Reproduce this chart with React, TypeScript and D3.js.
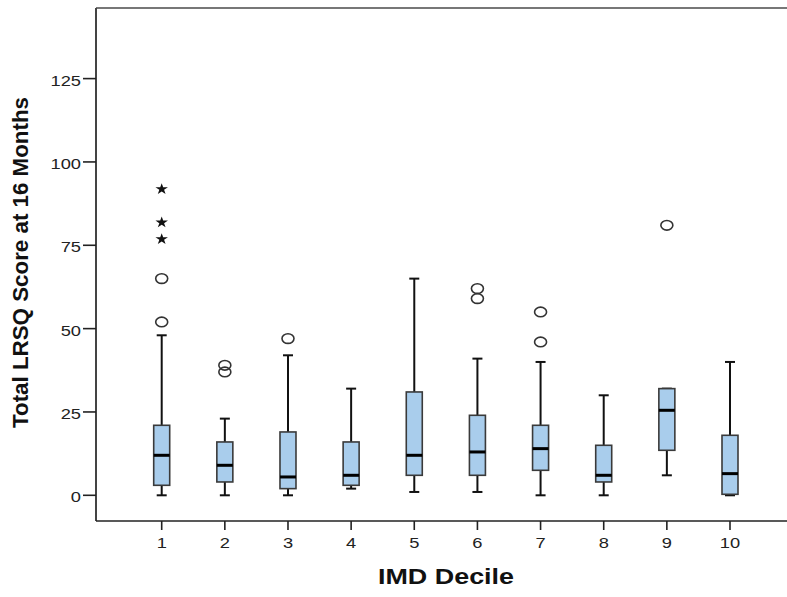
import React from "react";
import * as d3 from "d3";

const categories = ["1", "2", "3", "4", "5", "6", "7", "8", "9", "10"];
const lowerWhisker = [0, 0, 0, 2, 1, 1, 0, 0, 6, 0];
const q1 = [3, 4, 2, 3, 6, 6, 7.5, 4, 13.5, 0.3];
const median = [12, 9, 5.5, 6, 12, 13, 14, 6, 25.5, 6.5];
const q3 = [21, 16, 19, 16, 31, 24, 21, 15, 32, 18];
const upperWhisker = [48, 23, 42, 32, 65, 41, 40, 30, 32, 40];
const outliers = [[52, 65], [37, 39], [47], [], [], [59, 62], [46, 55], [], [81], []];
const extremes = [[77, 82, 92], [], [], [], [], [], [], [], [], []];
const yTicks = [0, 25, 50, 75, 100, 125];

const W = 787;
const H = 597;
const left = 96;
const top = 8;
const bottom = 521;

export default function App() {
  const x = d3.scalePoint<string>().domain(categories).range([161.7, 730]);
  const y = d3.scaleLinear().domain([0, 125]).range([495.3, 78.6]);
  const star = d3.symbol().type(d3.symbolStar).size(40)() as string;
  const boxW = 16;
  const capW = 10;
  const font = "Arial, 'Liberation Sans', sans-serif";

  return (
    <svg
      width={W}
      height={H}
      style={{ position: "absolute", left: 0, top: 0, background: "#fff" }}
      fontFamily={font}
    >
      {/* frame */}
      <line x1={left} x2={W} y1={top} y2={top} stroke="#777" strokeWidth={2} />
      <line x1={left} x2={left} y1={top} y2={bottom} stroke="#444" strokeWidth={2} />
      <line x1={left} x2={W} y1={bottom} y2={bottom} stroke="#222" strokeWidth={1.6} />

      {/* y axis ticks */}
      {yTicks.map((t) => (
        <g key={"yt" + t}>
          <line x1={83} x2={left} y1={y(t)} y2={y(t)} stroke="#222" strokeWidth={1.6} />
          <text
            transform={`translate(81,${y(t) + 1.5}) scale(1.18,1)`}
            textAnchor="end"
            dy="0.35em"
            fontSize={15.5}
            fill="#222"
          >
            {t}
          </text>
        </g>
      ))}

      {/* x axis ticks */}
      {categories.map((c) => (
        <g key={"xt" + c}>
          <line x1={x(c)!} x2={x(c)!} y1={bottom} y2={530} stroke="#222" strokeWidth={1.6} />
          <text
            transform={`translate(${x(c)},548) scale(1.18,1)`}
            textAnchor="middle"
            fontSize={15.5}
            fill="#222"
          >
            {c}
          </text>
        </g>
      ))}

      {/* boxes */}
      {categories.map((c, i) => {
        const cx = x(c)!;
        return (
          <g key={"box" + c}>
            <line x1={cx} x2={cx} y1={y(upperWhisker[i])} y2={y(q3[i])} stroke="#111" strokeWidth={2} />
            <line x1={cx} x2={cx} y1={y(q1[i])} y2={y(lowerWhisker[i])} stroke="#111" strokeWidth={2} />
            <line
              x1={cx - capW / 2}
              x2={cx + capW / 2}
              y1={y(upperWhisker[i])}
              y2={y(upperWhisker[i])}
              stroke="#111"
              strokeWidth={2}
            />
            <line
              x1={cx - capW / 2}
              x2={cx + capW / 2}
              y1={y(lowerWhisker[i])}
              y2={y(lowerWhisker[i])}
              stroke="#111"
              strokeWidth={2}
            />
            <rect
              x={cx - boxW / 2}
              y={y(q3[i])}
              width={boxW}
              height={y(q1[i]) - y(q3[i])}
              fill="#a9cdec"
              stroke="#3a3a3a"
              strokeWidth={1.6}
            />
            <line
              x1={cx - boxW / 2}
              x2={cx + boxW / 2}
              y1={y(median[i])}
              y2={y(median[i])}
              stroke="#000"
              strokeWidth={3}
            />
            {outliers[i].map((v, k) => (
              <ellipse
                key={"o" + k}
                cx={cx}
                cy={y(v)}
                rx={6}
                ry={4.8}
                fill="none"
                stroke="#333"
                strokeWidth={1.6}
              />
            ))}
            {extremes[i].map((v, k) => (
              <path
                key={"e" + k}
                d={star}
                transform={`translate(${cx},${y(v) + 0.5}) scale(1.1,1)`}
                fill="#111"
              />
            ))}
          </g>
        );
      })}

      {/* axis titles */}
      <text
        x={446}
        y={584}
        textAnchor="middle"
        fontSize={22}
        fontWeight="bold"
        textLength={136}
        lengthAdjust="spacingAndGlyphs"
        fill="#111"
      >
        IMD Decile
      </text>
      <text
        transform="translate(28,262.5) rotate(-90)"
        textAnchor="middle"
        fontSize={22}
        fontWeight="bold"
        textLength={331}
        lengthAdjust="spacingAndGlyphs"
        fill="#111"
      >
        Total LRSQ Score at 16 Months
      </text>
    </svg>
  );
}
